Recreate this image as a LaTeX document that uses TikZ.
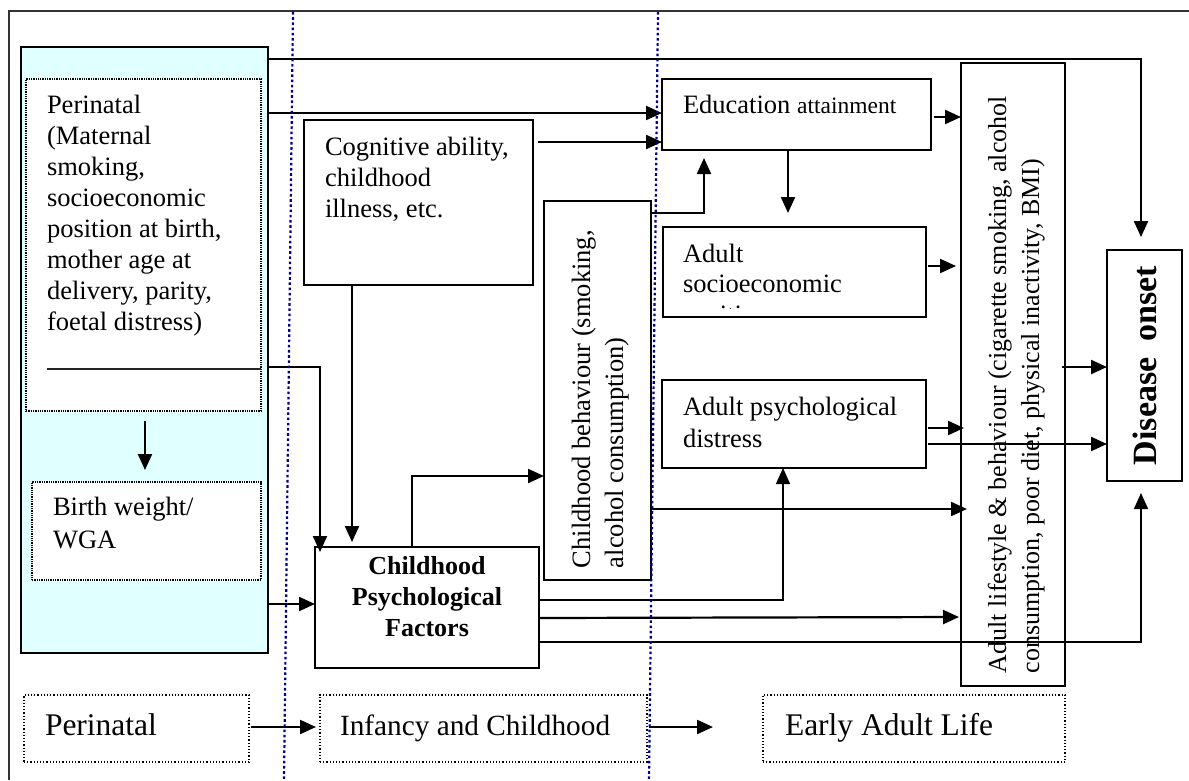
\documentclass[tikz,border=0pt]{standalone}
\usepackage{fontspec}
\setmainfont{Liberation Serif}
\usetikzlibrary{arrows.meta}
\definecolor{panelcyan}{RGB}{224,255,255}
\definecolor{guideblue}{RGB}{0,0,140}
\newcommand\bodysize{\fontsize{26.5}{31}\selectfont}
\begin{document}
\begin{tikzpicture}[x=1pt,y=-1pt,
  box/.style={draw, line width=1.8pt, outer sep=0pt, inner sep=0pt, anchor=north west, fill=white},
  dotbox/.style={draw, line width=1.3pt, densely dotted, outer sep=0pt, inner sep=0pt, anchor=north west, fill=white},
  stagebox/.style={draw, line width=1.2pt, dotted, outer sep=0pt, inner sep=0pt, anchor=north west, fill=white},
  txt/.style={inner sep=0pt, outer sep=0pt, anchor=base west, align=flush left, font=\bodysize},
  arr/.style={line width=2.2pt, -{Triangle[length=16pt,width=14pt]}},
  thinarr/.style={line width=1.5pt, -{Triangle[length=16pt,width=14pt]}},
  guide/.style={guideblue, line width=2.2pt, dash pattern=on 2.6pt off 2.6pt}
]
\useasboundingbox (0,0) rectangle (1189,780);

% frame lines
\draw[line width=1.3pt, black!80] (1189,11) -- (9,11) -- (9,780);

% perinatal panel
\node[box, fill=panelcyan, minimum width=247pt, minimum height=606pt] (peri) at (21,47) {};
\node[dotbox, minimum width=235pt, minimum height=332pt] (pbox) at (26,79) {};
\node[txt, text width=210pt] (ptxt) at (47,113)
  {Perinatal\\(Maternal\\smoking,\\socioeconomic\\position at birth,\\mother age at\\delivery, parity,\\foetal distress)};
\draw[line width=1.3pt, black!85] (pbox.west |- 0,369) ++(21,0) coordinate (rs) -- (pbox.east |- 0,369) ++(-8,0) coordinate (re);
\node[dotbox, minimum width=229pt, minimum height=98pt] (bw) at (32,482) {};
\node[txt, text width=200pt, font=\fontsize{26.5}{33}\selectfont] (bwtxt) at (53,515) {Birth weight/\\WGA};

% childhood boxes
\node[box, minimum width=229pt, minimum height=165pt] (cog) at (304,120) {};
\node[txt, text width=205pt] (cogtxt) at (325,155) {Cognitive ability,\\childhood\\illness, etc.};
\node[box, minimum width=107pt, minimum height=379pt] (cb) at (544,201) {};
\node[txt, rotate=90, text width=400pt, font=\fontsize{26.5}{33}\selectfont] (cbtxt) at (590,568)
  {Childhood behaviour (smoking,\\alcohol consumption)};
\node[box, minimum width=224pt, minimum height=121pt] (cpf) at (315,547) {};
\node[inner sep=0pt, anchor=base, align=center, text width=224pt, font=\fontsize{26}{31}\selectfont\bfseries] (cpftxt) at (427,574)
  {Childhood\\Psychological\\Factors};

% adult boxes
\node[box, minimum width=269pt, minimum height=71pt] (edu) at (662,79) {};
\node[txt] (edutxt) at (683,113) {Education {\fontsize{23.5}{31}\selectfont attainment}};
\node[box, minimum width=263pt, minimum height=90pt] (ses) at (663,227) {};
\begin{scope}
  \clip (ses.north west) ++(1,1) rectangle (926,308);
  \node[txt, text width=240pt, font=\fontsize{26.5}{30.5}\selectfont] (sestxt) at (683,262) {Adult\\socioeconomic\\position};
\end{scope}
\node[box, minimum width=264pt, minimum height=88pt] (apd) at (662,380) {};
\node[txt, text width=240pt, font=\fontsize{26.5}{32}\selectfont] (apdtxt) at (683,415) {Adult psychological\\distress};
\node[box, minimum width=104pt, minimum height=623pt] (life) at (961,63) {};
\node[box, minimum width=75pt, minimum height=231pt] (dis) at (1107,250) {};

% stage labels
\node[stagebox, minimum width=225pt, minimum height=67pt] (bperi) at (24,695) {};
\node[txt, font=\fontsize{31.5}{36}\selectfont] (bperitxt) at (45,735) {Perinatal};
\node[stagebox, minimum width=327pt, minimum height=67pt] (binf) at (320,695) {};
\node[txt, font=\fontsize{29.3}{34}\selectfont] (binftxt) at (340,735) {Infancy and Childhood};
\node[stagebox, minimum width=302pt, minimum height=67pt] (badult) at (763,695) {};
\node[txt, font=\fontsize{31.5}{36}\selectfont] (badulttxt) at (785,735) {Early Adult Life};

% connectors
\draw[arr] (peri.east |- 0,59) -- (1141,59) -- ([yshift=13pt]dis.north -| 1141,0);
\draw[arr] (peri.east |- 0,113) -- (edu.west |- 0,113);
\draw[arr, shorten <=5pt] (cog.east |- 0,142) -- (edu.west |- 0,142);
\draw[arr, shorten >=8pt] (cb.east |- 0,213) -- (704,213) -- (edu.south -| 704,0);
\draw[arr, shorten >=14pt] (edu.south -| 788,0) -- (ses.north -| 788,0);
\draw[arr, shorten <=3pt] (edu.east |- 0,117) -- (life.west |- 0,117);
\draw[arr, shorten <=2pt, shorten >=5pt] (ses.east |- 0,266) -- (life.west |- 0,266);
\draw[arr, shorten <=2pt, shorten >=-3pt] (apd.east |- 0,428) -- (life.west |- 0,428);
\draw[arr, shorten <=2pt] (apd.east |- 0,444) -- (dis.west |- 0,444);
\draw[arr, shorten <=-3pt] (life.east |- 0,367) -- (dis.west |- 0,367);
\draw[arr] (peri.east |- 0,367) -- (320,367) -- ([yshift=-5pt]cpf.north -| 320,0);
\draw[arr, shorten >=5pt] (cog.south -| 352,0) -- (cpf.north -| 352,0);
\draw[arr] (peri.east |- 0,604) -- (cpf.west |- 0,604);
\draw[arr] (cpf.north -| 412,0) -- (412,476) -- (cb.west |- 0,476);
\draw[arr, shorten <=-1pt, shorten >=-6pt] (cb.east |- 0,509) -- (life.west |- 0,509);
\draw[thinarr] (cpf.east |- 0,600) -- (783,600) -- (apd.south -| 783,0);
\draw[arr, shorten >=2pt] (cpf.east |- 0,618) -- (life.west |- 0,617);
\draw[thinarr, shorten >=12pt] (cpf.east |- 0,642) -- (1141,642) -- (dis.south -| 1141,0);
\draw[arr, shorten >=12pt, shorten <=10pt] (pbox.south -| 145,0) -- (bw.north -| 145,0);
\draw[arr, shorten <=2pt, shorten >=4pt] (bperi.east |- 0,727) -- (binf.west |- 0,727);
\draw[arr, shorten <=2pt, shorten >=50pt] (binf.east |- 0,727) -- (badult.west |- 0,727);

% rotated labels
\node[txt, rotate=90, text width=700pt, font=\fontsize{26}{33}\selectfont] (lifetxt) at (1006,673)
  {Adult lifestyle \& behaviour (cigarette smoking, alcohol\\consumption, poor diet, physical inactivity, BMI)};
\node[inner sep=0pt, rotate=90, font=\fontsize{34}{36}\selectfont\bfseries] (distxt) at (dis.center)
  {Disease\hspace{16pt}onset};

% period guides
\draw[guide] (293,12) -- (284,780);
\draw[guide] (658,12) -- (649,780);
\end{tikzpicture}
\end{document}
